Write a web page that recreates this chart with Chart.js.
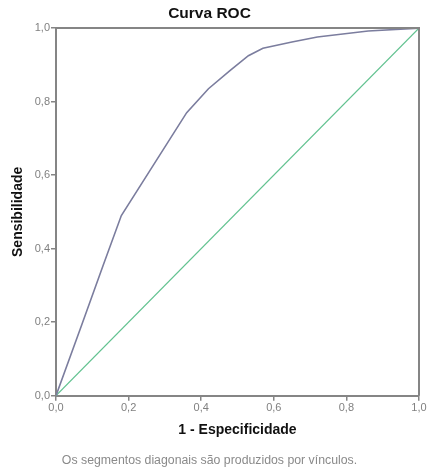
<!DOCTYPE html>
<html>
<head>
<meta charset="utf-8">
<script src="https://cdn.jsdelivr.net/npm/chart.js@4"></script>
<style>
  html, body { margin: 0; padding: 0; background: #fff; }
  #wrap { width: 428px; height: 473px; }
</style>
</head>
<body>
<div id="wrap"><canvas id="roc"></canvas></div>
<script>
// ROC curve: 1 - especificidade vs sensibilidade
const FPR = [0, 0.07, 0.13, 0.18, 0.27, 0.36, 0.42, 0.48, 0.53, 0.57, 0.65, 0.72, 0.86, 1];
const TPR = [0, 0.19, 0.355, 0.49, 0.63, 0.77, 0.835, 0.885, 0.925, 0.945, 0.962, 0.976, 0.992, 1];
const REF_X = [0, 1];
const REF_Y = [0, 1];
const TICK_LABELS = ['0,0', '0,2', '0,4', '0,6', '0,8', '1,0'];

const AXIS_COLOR = '#858585';
const FONT = "'Liberation Sans', Arial, sans-serif";

const frame = {
  id: 'frame',
  afterDatasetsDraw(chart) {
    const { ctx, chartArea: a } = chart;
    ctx.save();
    ctx.strokeStyle = AXIS_COLOR;
    ctx.lineWidth = 2;
    ctx.beginPath();
    ctx.moveTo(a.left, a.top);
    ctx.lineTo(a.right, a.top);
    ctx.lineTo(a.right, a.bottom);
    ctx.stroke();
    ctx.restore();
  }
};

const toPoints = (xs, ys) => xs.map((x, i) => ({ x, y: ys[i] }));

new Chart(document.getElementById('roc'), {
  type: 'line',
  data: {
    datasets: [
      {
        label: 'Curva',
        data: toPoints(FPR, TPR),
        borderColor: '#7b7d9e',
        borderWidth: 1.6,
        pointRadius: 0,
        tension: 0
      },
      {
        label: 'Referência',
        data: toPoints(REF_X, REF_Y),
        borderColor: '#62c290',
        borderWidth: 1.2,
        pointRadius: 0
      }
    ]
  },
  options: {
    responsive: true,
    maintainAspectRatio: false,
    animation: false,
    layout: { autoPadding: false, padding: { left: 0, right: 9, top: 0, bottom: 0 } },
    plugins: {
      legend: { display: false },
      tooltip: { enabled: false },
      title: {
        display: true,
        text: 'Curva ROC',
        color: '#111',
        font: { family: FONT, size: 15.5, weight: 'bold' },
        padding: { top: 4.5, bottom: 5 }
      },
      subtitle: {
        display: true,
        position: 'bottom',
        text: 'Os segmentos diagonais são produzidos por vínculos.',
        color: '#8a8a8a',
        font: { family: FONT, size: 12.3 },
        padding: { top: 6, bottom: 4.6 }
      }
    },
    scales: {
      x: {
        type: 'linear',
        min: 0,
        max: 1,
        afterFit: s => { s.height = 52; },
        ticks: {
          stepSize: 0.2,
          color: '#808080',
          padding: 1,
          font: { family: FONT, size: 11 },
          callback: (v, i) => TICK_LABELS[i]
        },
        grid: { drawOnChartArea: false, drawTicks: true, tickLength: 5, color: AXIS_COLOR, lineWidth: 1.5 },
        border: { display: true, color: AXIS_COLOR, width: 2 },
        title: {
          display: true,
          text: '1 - Especificidade',
          color: '#111',
          font: { family: FONT, size: 14, weight: 'bold' },
          padding: { top: 0, bottom: 8.6 }
        }
      },
      y: {
        type: 'linear',
        min: 0,
        max: 1,
        afterFit: s => { s.width = 56; },
        ticks: {
          stepSize: 0.2,
          color: '#808080',
          padding: 1,
          font: { family: FONT, size: 11 },
          callback: (v, i) => TICK_LABELS[i]
        },
        grid: { drawOnChartArea: false, drawTicks: true, tickLength: 5, color: AXIS_COLOR, lineWidth: 1.5 },
        border: { display: true, color: AXIS_COLOR, width: 2 },
        title: {
          display: true,
          text: 'Sensibilidade',
          color: '#111',
          font: { family: FONT, size: 14, weight: 'bold' },
          padding: { top: 9.6, bottom: 0 }
        }
      }
    }
  },
  plugins: [frame]
});
</script>
</body>
</html>
